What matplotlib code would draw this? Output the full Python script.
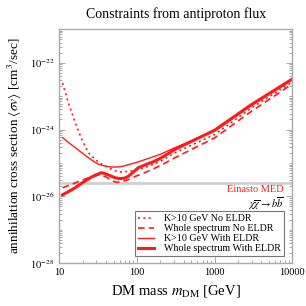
import numpy as np
import matplotlib
matplotlib.use("Agg")
import matplotlib.pyplot as plt
from matplotlib.ticker import LogLocator, FixedLocator, FixedFormatter, NullFormatter

plt.rcParams["font.family"] = ["Liberation Serif", "DejaVu Serif"]
plt.rcParams["mathtext.fontset"] = "stix"

# Data (log10 of <sigma v> in cm^3/s)
k10_no_mass = [11, 13, 16, 19.4, 23.6, 28.8, 33, 39, 50, 60, 80, 126, 200, 310, 1000, 3000, 10000]
k10_no_log = [-22.61, -23.19, -23.79, -24.29, -24.69, -24.89, -25.0, -25.09, -25.22, -25.27,
              -25.25, -25.14, -24.95, -24.69, -24.15, -23.35, -22.58]

whole_no_mass = [11, 14.4, 18, 22, 27, 33, 40, 50, 55, 65, 77, 100, 126, 200, 310, 1000, 3000, 10000]
whole_no_log = [-25.74, -25.64, -25.55, -25.47, -25.40, -25.35, -25.42, -25.55, -25.58, -25.55,
                -25.50, -25.38, -25.29, -25.08, -24.84, -24.25, -23.45, -22.64]

k10_with_mass = [11, 13, 16, 19.4, 23.6, 28, 32, 40, 47, 55, 65, 80, 100, 150, 200, 310, 1000, 3000, 10000]
k10_with_log = [-24.24, -24.38, -24.54, -24.69, -24.84, -24.96, -25.04, -25.10, -25.12, -25.12,
                -25.10, -25.04, -24.98, -24.84, -24.74, -24.54, -24.05, -23.28, -22.52]

whole_with_mass = [11, 13, 16, 21, 26, 30, 35, 40, 52, 60, 70, 77, 90, 104, 139, 160, 208, 310, 1000, 3000, 10000]
whole_with_log = [-25.95, -25.86, -25.74, -25.55, -25.42, -25.35, -25.29, -25.33, -25.44, -25.47,
                  -25.45, -25.40, -25.27, -25.14, -25.02, -24.97, -24.84, -24.59, -24.02, -23.25, -22.49]

thermal_xsec = 2.6e-26

labels = ["K>10 GeV No ELDR", "Whole spectrum No ELDR", "K>10 GeV With ELDR", "Whole spectrum With ELDR"]

fig = plt.figure(figsize=(3.06, 3.06), dpi=100)
ax = fig.add_axes([0.194, 0.1395, 0.761, 0.765])

red = "#ff1a1a"
ax.axhline(thermal_xsec, color="#cfcfcf", lw=2.0, zorder=1)
ax.plot(k10_no_mass, 10 ** np.array(k10_no_log), color=red, lw=1.2, ls=(0, (1.2, 2.0)), label=labels[0])
ax.plot(whole_no_mass, 10 ** np.array(whole_no_log), color=red, lw=1.2, ls=(0, (4, 2.5)), label=labels[1])
ax.plot(k10_with_mass, 10 ** np.array(k10_with_log), color=red, lw=1.0, label=labels[2])
ax.plot(whole_with_mass, 10 ** np.array(whole_with_log), color=red, lw=2.2, label=labels[3])

ax.set_xscale("log")
ax.set_yscale("log")
ax.set_xlim(10, 10000)
ax.set_ylim(1e-28, 1e-21)

# ticks
ax.xaxis.set_major_locator(FixedLocator([10, 100, 1000, 10000]))
ax.xaxis.set_major_formatter(FixedFormatter(["10", "100", "1000", "10000"]))
ax.xaxis.set_minor_locator(LogLocator(base=10, subs=np.arange(2, 10)))
ax.xaxis.set_minor_formatter(NullFormatter())
ax.yaxis.set_major_locator(FixedLocator([1e-28, 1e-26, 1e-24, 1e-22]))
ax.yaxis.set_major_formatter(FixedFormatter([r"$10^{-28}$", r"$10^{-26}$", r"$10^{-24}$", r"$10^{-22}$"]))
ax.yaxis.set_minor_locator(LogLocator(base=10, subs=np.arange(1, 10), numticks=20))
ax.yaxis.set_minor_formatter(NullFormatter())
ax.tick_params(which="both", direction="in", right=True, top=False, colors="#999999",
               labelcolor="black", labelsize=7.5, width=0.6)
ax.tick_params(which="major", length=4)
ax.tick_params(which="minor", length=2)

for s in ax.spines.values():
    s.set_color("#aaaaaa")
    s.set_linewidth(1.0)

ax.set_title("Constraints from antiproton flux", fontsize=10, pad=8)
ax.set_xlabel(r"DM mass $m_{\rm DM}$ [GeV]", fontsize=10.5, labelpad=4)
ax.set_ylabel(r"annihilation cross section $\langle\sigma v\rangle$ [cm$^3$/sec]", fontsize=9.5, labelpad=4)

ax.text(0.962, 0.315, "Einasto MED", color=red, fontsize=7.5, ha="right", va="center", transform=ax.transAxes)
ax.text(0.962, 0.255, r"$\chi\overline{\chi}\to b\overline{b}$", color="black", fontsize=7.5,
        ha="right", va="center", transform=ax.transAxes)

leg = ax.legend(loc="lower right", bbox_to_anchor=(0.964, 0.031), fontsize=7.2, frameon=True,
                fancybox=False, edgecolor="#555555", handlelength=1.6, handletextpad=1.0,
                borderpad=0.3, labelspacing=0.1, borderaxespad=0)
leg.get_frame().set_linewidth(0.8)

fig.savefig("out.png", dpi=100)
